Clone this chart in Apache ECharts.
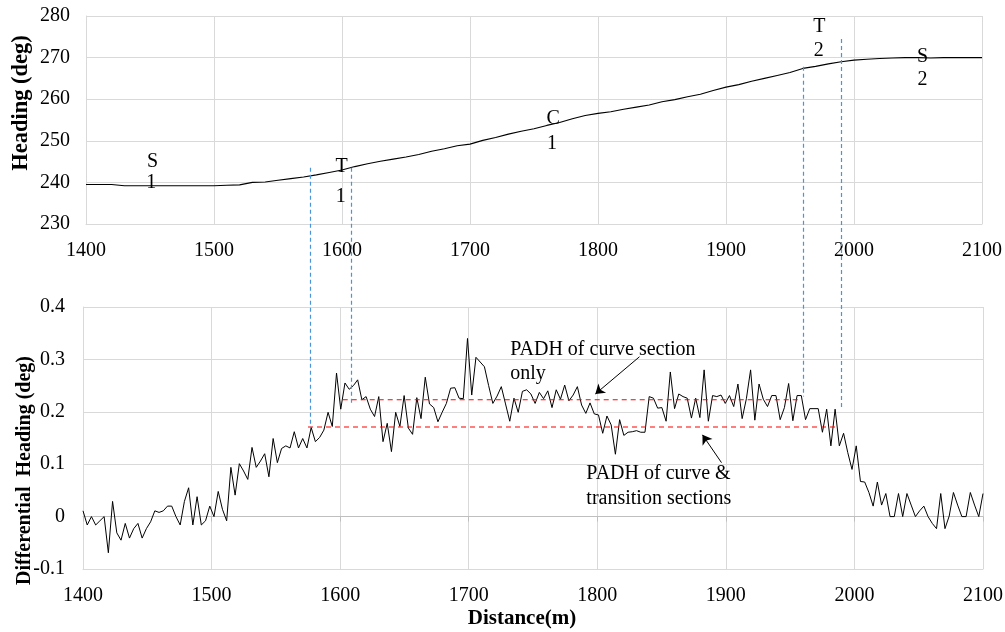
<!DOCTYPE html>
<html>
<head>
<meta charset="utf-8">
<title>Heading and differential heading</title>
<script src="https://cdn.jsdelivr.net/npm/echarts@6/dist/echarts.min.js"></script>
<style>
  html, body { margin: 0; padding: 0; background: #fff; }
  #main { width: 1005px; height: 632px; }
</style>
</head>
<body>
<div id="main"></div>
<script>
// heading (deg), read every 10 m from 1400 m to 2100 m
var headingStart = 1400;
var headingStep = 10;
var heading = [
  239.5, 239.5, 239.5, 239.2, 239.2, 239.2, 239.2, 239.2, 239.2, 239.2,
  239.2, 239.3, 239.4, 240.0, 240.1, 240.5, 240.9, 241.3, 241.8, 242.4,
  243.0, 243.8, 244.5, 245.1, 245.6, 246.1, 246.7, 247.5, 248.1, 248.8,
  249.2, 250.1, 250.8, 251.6, 252.3, 252.9, 253.7, 254.4, 255.3, 256.1,
  256.6, 257.0, 257.6, 258.1, 258.6, 259.4, 259.9, 260.6, 261.2, 262.1,
  262.9, 263.5, 264.3, 265.0, 265.7, 266.4, 267.4, 267.9, 268.5, 269.0,
  269.4, 269.6, 269.8, 269.9, 270.0, 270.0, 269.9, 270.0, 270.0, 270.0,
  270.0
];

// differential heading (deg), evenly sampled from 1400 m to 2100 m
var diffStart = 1400;
var diffEnd = 2100;
var diffHeading = [
  0.011, -0.016, 0, -0.016, -0.008, 0, -0.069, 0.029, -0.031, -0.045,
  -0.013, -0.041, -0.023, -0.013, -0.041, -0.023, -0.01, 0.011, 0.008, 0.011,
  0.02, 0.02, 0, -0.016, 0.029, 0.055, -0.016, 0.038, -0.016, -0.008,
  0.02, 0, 0.048, 0.014, -0.008, 0.094, 0.041, 0.101, 0.087, 0.071,
  0.132, 0.094, 0.106, 0.12, 0.076, 0.149, 0.103, 0.13, 0.135, 0.131,
  0.162, 0.131, 0.149, 0.131, 0.17,
  0.143, 0.151, 0.165, 0.199, 0.172, 0.274, 0.205, 0.255, 0.243, 0.25,
  0.261, 0.223, 0.229, 0.205, 0.191, 0.229, 0.143, 0.178, 0.124, 0.199,
  0.172, 0.231, 0.169, 0.157, 0.227, 0.187, 0.266, 0.215, 0.208, 0.181,
  0.199, 0.216, 0.245, 0.246, 0.226, 0.225, 0.34, 0.232, 0.304, 0.295,
  0.286, 0.25, 0.216, 0.23, 0.248, 0.215, 0.182, 0.226, 0.199, 0.239,
  0.242, 0.234, 0.216, 0.237, 0.225,
  0.24, 0.208, 0.242, 0.224, 0.251, 0.221, 0.232, 0.248, 0.213, 0.197,
  0.217, 0.196, 0.194, 0.159, 0.192, 0.175, 0.119, 0.185, 0.155, 0.161,
  0.162, 0.164, 0.161, 0.161, 0.229, 0.226, 0.207, 0.208, 0.182, 0.276,
  0.206, 0.234, 0.229, 0.226, 0.188, 0.226, 0.189, 0.28, 0.182, 0.231,
  0.229, 0.232, 0.216, 0.231, 0.21, 0.253, 0.187, 0.225, 0.28, 0.184,
  0.253,
  0.224, 0.21, 0.231, 0.231, 0.185, 0.208, 0.254, 0.183, 0.231, 0.231,
  0.185, 0.206, 0.206, 0.206, 0.161, 0.205, 0.135, 0.205, 0.135,
  0.159, 0.122, 0.09, 0.135, 0.067, 0.066, 0.046, 0.02, 0.066, 0.022,
  0.044, 0, 0, 0.044, 0, 0.044, 0.022, 0, 0.011, 0.02,
  0, -0.013, -0.023, 0.044, -0.023, 0.001, 0.046, 0.022, 0, 0,
  0.046, 0.022, 0, 0.044
];

// PADH levels and the stretch each one covers
var padhCurveOnly = 0.223;
var padhCurveOnlyRange = [1602, 1958];
var padhCurveTrans = 0.171;
var padhCurveTransRange = [1575, 1988];

// section boundaries (m): where the blue dashed lines fall
var boundaryDist = [1575, 1607, 1960, 1990];
var boundaryTop = [243.5, 243.5, 267.8, 274.5];     // heading where the line starts
var boundaryBottom = [0.17, 0.213, 0.229, 0.204];   // diff heading where it ends

var distTicks = { min: 1400, max: 2100, interval: 100 };

var FONT = '"Liberation Serif", "Times New Roman", serif';

var headingData = heading.map(function (v, i) { return [headingStart + i * headingStep, v]; });
var diffStep = (diffEnd - diffStart) / (diffHeading.length - 1);
var diffData = diffHeading.map(function (v, i) { return [diffStart + i * diffStep, v]; });

var grey = '#d9d9d9';
var labelStyle = { fontFamily: FONT, fontSize: 20, color: '#000' };

function xAxisFor(grid) {
  return {
    gridIndex: grid, type: 'value',
    min: distTicks.min, max: distTicks.max, interval: distTicks.interval,
    axisLine: { onZero: false, lineStyle: { color: grey } },
    axisTick: { show: false },
    axisLabel: Object.assign({ margin: 17, formatter: function (v) { return String(v); } }, labelStyle),
    splitLine: { lineStyle: { color: grey } }
  };
}

var bottomX = xAxisFor(1);
bottomX.name = 'Distance(m)';
bottomX.nameLocation = 'middle';
bottomX.nameGap = 39;
bottomX.nameTextStyle = { fontFamily: FONT, fontSize: 21, fontWeight: 'bold', color: '#000', padding: [0, 22, 0, 0] };

var option = {
  animation: false,
  backgroundColor: '#fff',
  grid: [
    { left: 86, right: 23, top: 16, height: 208, outerBoundsMode: 'none' },
    { left: 83, right: 22, top: 307, height: 262, outerBoundsMode: 'none' }
  ],
  xAxis: [
    xAxisFor(0),
    bottomX,
    // the zero line of the lower panel, with its small ticks
    {
      gridIndex: 1, type: 'value', position: 'top',
      min: distTicks.min, max: distTicks.max, interval: distTicks.interval,
      axisLine: { onZero: true, lineStyle: { color: '#bfbfbf' } },
      axisTick: { show: true, inside: true, length: 5, lineStyle: { color: '#bfbfbf' } },
      axisLabel: { show: false },
      splitLine: { show: false }
    }
  ],
  yAxis: [
    {
      gridIndex: 0, type: 'value', min: 230, max: 280, interval: 10,
      name: 'Heading (deg)', nameLocation: 'middle', nameGap: 53, nameMoveOverlap: false,
      nameTextStyle: { fontFamily: FONT, fontSize: 22.5, fontWeight: 'bold', color: '#000', padding: [0, 0, 0, 34] },
      axisLine: { show: true, lineStyle: { color: grey } },
      axisTick: { show: false },
      axisLabel: Object.assign({ margin: 16 }, labelStyle),
      splitLine: { lineStyle: { color: grey } }
    },
    {
      // its title is drawn below as a graphic so it can sit off-centre like the original
      gridIndex: 1, type: 'value', min: -0.1, max: 0.4, interval: 0.1,
      axisLine: { show: true, lineStyle: { color: grey } },
      axisTick: { show: false },
      axisLabel: Object.assign({
        margin: 18,
        formatter: function (v) { return String(Math.round(v * 10) / 10); }
      }, labelStyle),
      splitLine: { lineStyle: { color: grey } }
    }
  ],
  series: [
    {
      name: 'Heading', type: 'line', xAxisIndex: 0, yAxisIndex: 0,
      data: headingData, showSymbol: false, symbol: 'none',
      lineStyle: { color: '#000', width: 1.1 }
    },
    {
      name: 'Differential Heading', type: 'line', xAxisIndex: 1, yAxisIndex: 1,
      data: diffData, showSymbol: false, symbol: 'none',
      lineStyle: { color: '#000', width: 1 }, z: 3,
      markLine: {
        silent: true, symbol: ['none', 'arrow'], symbolSize: 9,
        label: { show: false },
        lineStyle: { color: '#000', type: 'solid', width: 1 },
        data: [
          [{ coord: [1832.8, 0.305] }, { coord: [1798.5, 0.234] }],
          [{ coord: [1896.6, 0.103] }, { coord: [1881.8, 0.156] }]
        ]
      }
    },
    {
      name: 'PADH curve only', type: 'line', xAxisIndex: 1, yAxisIndex: 1,
      data: [[padhCurveOnlyRange[0], padhCurveOnly], [padhCurveOnlyRange[1], padhCurveOnly]],
      symbol: 'none', lineStyle: { color: '#ff0000', width: 1.2, type: [5, 4] }, z: 4
    },
    {
      name: 'PADH curve and transition', type: 'line', xAxisIndex: 1, yAxisIndex: 1,
      data: [[padhCurveTransRange[0], padhCurveTrans], [padhCurveTransRange[1], padhCurveTrans]],
      symbol: 'none', lineStyle: { color: '#ff0000', width: 1.2, type: [5, 4] }, z: 4
    }
  ]
};

var myChart = echarts.init(document.getElementById('main'));
myChart.setOption(option);

// annotations, anchored to data coordinates: [grid, x, y, text, align]
var notes = [
  [0, 1452, 244.9, 'S', 'center'], [0, 1451, 239.8, '1', 'center'],
  [0, 1599.7, 243.7, 'T', 'center'], [0, 1599, 236.6, '1', 'center'],
  [0, 1765, 255.3, 'C', 'center'], [0, 1764, 249.3, '1', 'center'],
  [0, 1972.9, 277.5, 'T', 'center'], [0, 1972.4, 271.7, '2', 'center'],
  [0, 2053.6, 270.3, 'S', 'center'], [0, 2053.6, 264.7, '2', 'center'],
  [1, 1732.3, 0.319, 'PADH of curve section', 'left'],
  [1, 1732.3, 0.272, 'only', 'left'],
  [1, 1791.5, 0.082, 'PADH of curve &', 'left'],
  [1, 1791.5, 0.035, 'transition sections', 'left']
];

var graphics = [];
boundaryDist.forEach(function (d, i) {
  var p1 = myChart.convertToPixel({ gridIndex: 0 }, [d, boundaryTop[i]]);
  var p2 = myChart.convertToPixel({ gridIndex: 1 }, [d, boundaryBottom[i]]);
  var x = Math.round(p1[0]) + 0.5;   // keep the thin dashed line crisp
  graphics.push({
    type: 'line', silent: true, z: 10,
    shape: { x1: x, y1: p1[1], x2: x, y2: p2[1] },
    style: { stroke: '#4a94dc', lineWidth: 1.2, lineDash: [4, 3] }
  });
});
notes.forEach(function (n) {
  var p = myChart.convertToPixel({ gridIndex: n[0] }, [n[1], n[2]]);
  graphics.push({
    type: 'text', silent: true, z: 11, x: p[0], y: p[1],
    style: { text: n[3], fontFamily: FONT, fontSize: 20, fill: '#000', align: n[4], verticalAlign: 'middle' }
  });
});

// lower y-axis title, set a little below the middle of its axis
var titleAnchor = myChart.convertToPixel({ gridIndex: 1 }, [diffStart, 0.088]);
graphics.push({
  type: 'text', silent: true, x: titleAnchor[0] - 58, y: titleAnchor[1], rotation: Math.PI / 2,
  style: {
    text: 'Differential  Heading (deg)', fontFamily: FONT, fontSize: 20, fontWeight: 'bold',
    fill: '#000', align: 'center', verticalAlign: 'middle'
  }
});
myChart.setOption({ graphic: graphics });
</script>
</body>
</html>
